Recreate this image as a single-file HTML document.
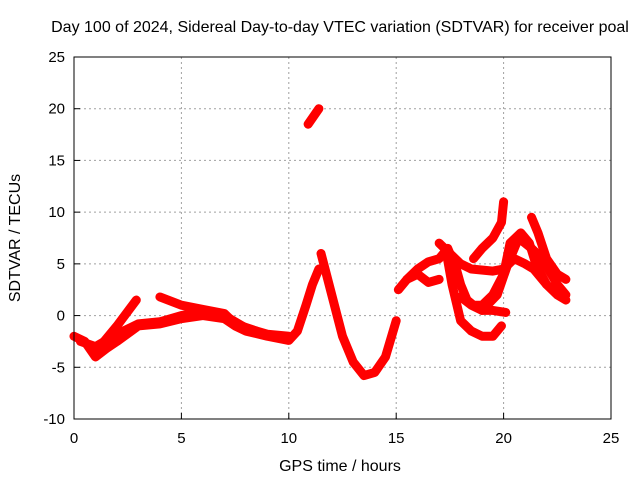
<!DOCTYPE html>
<html><head><meta charset="utf-8"><style>
body{margin:0;background:#fff;}
svg{display:block;font-family:"Liberation Sans",sans-serif;}
</style></head><body>
<svg id="chart" width="640" height="480">
<text x="340" y="32" text-anchor="middle" font-size="16">Day 100 of 2024, Sidereal Day-to-day VTEC variation (SDTVAR) for receiver poal</text>
<text x="340" y="471" text-anchor="middle" font-size="16">GPS time / hours</text>
<text transform="translate(20,238) rotate(-90)" text-anchor="middle" font-size="16">SDTVAR / TECUs</text>
<g id="grid"></g><g id="series"></g><g id="axes"></g>
</svg>
<script>
const xTicks=[0,5,10,15,20,25];
const yTicks=[-10,-5,0,5,10,15,20,25];
const seriesA=[[0,-2],[0.5,-2.5],[1,-4],[1.5,-3.2],[2,-2.5],[3,-1],[4,-0.8],[5,-0.3],[6,0],[7,-0.3],[7.5,-1],[8,-1.5],[9,-2],[10,-2.4],[10.4,-1.5],[10.8,1],[11.1,3],[11.4,4.5]];
const seriesB=[[0.3,-2.5],[1,-3],[2,-1.8],[3,-0.8],[4,-0.6],[5,0],[6,0.4],[7,0],[8,-1.2],[9,-1.8],[10,-2]];
const seriesC=[[1.2,-3],[2,-1],[2.9,1.5]];
const seriesD=[[4,1.8],[5,1],[6,0.6],[7,0.2],[7.5,-0.8],[8.5,-1.5]];
const seriesE=[[11.5,6],[12,2],[12.5,-2],[13,-4.5],[13.5,-5.8],[14,-5.5],[14.5,-4],[15,-0.5]];
const seriesF=[[10.9,18.5],[11.4,20]];
const seriesG=[[15.1,2.5],[15.5,3.5],[16,4.5],[16.5,5.2],[17,5.5],[17.4,6.5],[17.8,4.5],[18,3],[18.3,1.5],[18.6,1],[19,1],[19.5,2],[20,4],[20.3,7],[20.8,8],[21.2,7],[21.5,5],[22,3],[22.5,2],[22.9,1.5]];
const seriesH=[[17.3,6.5],[17.6,3],[18,-0.5],[18.5,-1.5],[19,-2],[19.5,-2],[19.9,-1]];
const seriesI=[[17,7],[17.5,6],[18,5],[18.5,4.5],[19.5,4.3],[20,4.5],[20.5,5.5],[21,5],[21.4,4.5],[22,3]];
const seriesJ=[[18.6,5.5],[19,6.5],[19.5,7.5],[19.9,9],[20,11]];
const seriesK=[[21.3,9.5],[21.6,8],[22,5.5],[22.5,4],[22.9,3.5]];
const seriesL=[[15.5,3.5],[16,4],[16.5,3.2],[17,3.5]];
const seriesM=[[18,1.8],[18.5,1],[19,0.5],[19.5,0.5],[20.1,0.3]];
const seriesN=[[19,0.5],[19.7,2],[20.2,5],[20.7,7.5],[21.3,6.5],[21.8,5.5],[22.5,3],[22.9,2]];
const allSeries=[seriesA,seriesB,seriesC,seriesD,seriesE,seriesF,seriesG,seriesH,seriesI,seriesJ,seriesK,seriesL,seriesM,seriesN];
const L=74,R=611,T=57,B=419,xmin=0,xmax=25,ymin=-10,ymax=25;
const X=v=>L+(v-xmin)/(xmax-xmin)*(R-L);
const Y=v=>B-(v-ymin)/(ymax-ymin)*(B-T);
const NS="http://www.w3.org/2000/svg";
const mk=(t,a)=>{const e=document.createElementNS(NS,t);for(const k in a)e.setAttribute(k,a[k]);return e;};
const grid=document.getElementById('grid'),axes=document.getElementById('axes'),sg=document.getElementById('series');
xTicks.forEach(t=>{
 if(t>xmin&&t<xmax){const g=mk('line',{x1:X(t),x2:X(t),y1:T,y2:B,stroke:'#a0a0a0','stroke-dasharray':'2,3'});
 
 grid.appendChild(g);}
 const tk=mk('line',{x1:X(t),x2:X(t),y1:B,y2:B-6,stroke:'#000'});
 
 axes.appendChild(tk);
 const lb=mk('text',{x:X(t),y:B+24,'text-anchor':'middle','font-size':'15'});lb.textContent=t;
 
 axes.appendChild(lb);
});
yTicks.forEach(t=>{
 if(t>ymin&&t<ymax){const g=mk('line',{x1:L,x2:R,y1:Y(t),y2:Y(t),stroke:'#a0a0a0','stroke-dasharray':'2,3'});
 
 grid.appendChild(g);}
 const tk=mk('line',{x1:L,x2:L+6,y1:Y(t),y2:Y(t),stroke:'#000'});
 
 axes.appendChild(tk);
 const lb=mk('text',{x:L-9,y:Y(t)+5,'text-anchor':'end','font-size':'15'});lb.textContent=t;
 
 axes.appendChild(lb);
});
const frame=mk('rect',{x:L,y:T,width:R-L,height:B-T,fill:'none',stroke:'#000'});

axes.appendChild(frame);
allSeries.forEach(s=>{
 const p=mk('polyline',{points:s.map(d=>X(d[0])+','+Y(d[1])).join(' '),fill:'none',stroke:'#ff0000','stroke-width':'9','stroke-linejoin':'round','stroke-linecap':'round'});
 
 sg.appendChild(p);
});
</script>
</body></html>
